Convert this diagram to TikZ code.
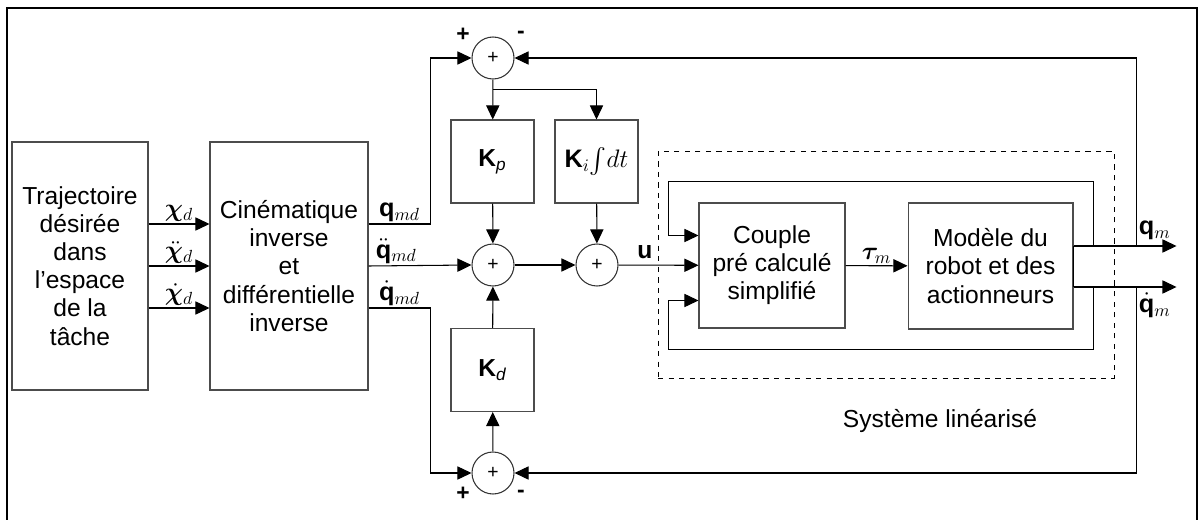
\documentclass[tikz,border=0pt]{standalone}
\usepackage{amsmath,bm}
\usepackage{fontspec}
\setmainfont{Liberation Sans}
\usepackage{tikz}
\usetikzlibrary{arrows.meta,positioning,calc}

\begin{document}
\begin{tikzpicture}[
  x=0.02cm, y=-0.02cm,
  >={Triangle[length=8pt,width=7.5pt]},
  every node/.style={font=\fontsize{14}{16}\selectfont},
  boxstep/.style={draw=black!70, line width=0.6pt, align=center, inner sep=0pt},
  gainbox/.style={boxstep, minimum width=1.66cm, minimum height=1.66cm},
  sumnode/.style={draw=black!80, circle, line width=0.6pt, minimum size=0.84cm, inner sep=0pt, font=\fontsize{11}{12}\selectfont},
  arr/.style={->, line width=0.6pt},
  wire/.style={line width=0.6pt},
  sig/.style={font=\Large, inner sep=1pt},
  sgn/.style={font=\bfseries\fontsize{13}{14}\selectfont}
]
\useasboundingbox (0,0) rectangle (1199,520);
\draw[line width=1.2pt] (7,520) -- (7,8) -- (1197,8) -- (1197,520);

\node[draw, dashed, line width=0.5pt, minimum width=9.12cm, minimum height=4.54cm] (lin) at (886,264.5) {};
\node (linlbl) at (940,421) {Système linéarisé};

\node[boxstep, minimum width=2.72cm, minimum height=4.96cm] (traj) at (80,266) {Trajectoire\\désirée\\dans\\l’espace\\de la\\tâche};
\node[boxstep, minimum width=3.16cm, minimum height=4.96cm] (cine) at (289,266) {Cinématique\\inverse\\et\\différentielle\\inverse};
\node[sumnode] (sumP) at (493,58) {+};
\node[gainbox] (kp) at (492.5,161.5) {$\textbf{K}_{\textit{p}}$};
\node[gainbox] (ki) at (596.5,161.5) {\Large$\mathbf{K}_i\!\int\! dt$};
\node[sumnode] (sumA) at (493,265) {+};
\node[sumnode] (sumI) at (597,265) {+};
\node[gainbox] (kd) at (492.5,370) {$\textbf{K}_{\textit{d}}$};
\node[sumnode] (sumD) at (493,473) {+};
\node[boxstep, minimum width=2.92cm, minimum height=2.5cm] (couple) at (772,265.5) {Couple\\pré calculé\\simplifié};
\node[boxstep, minimum width=3.3cm, minimum height=2.52cm] (modele) at (990.5,266) {Modèle du\\robot et des\\actionneurs};

\node[sgn] (pP) at (463,35) {+};
\node[sgn] (mP) at (521,35) {-};
\node[sgn] (pD) at (463,494) {+};
\node[sgn] (mD) at (521,494) {-};

\coordinate (oq) at ($(modele.east)+(0,-20)$);
\coordinate (oqd) at ($(modele.east)+(0,21)$);
\coordinate (qmout) at ($(oq)+(103,0)$);
\coordinate (qdmout) at ($(oqd)+(103,0)$);

\draw[arr] ($(traj.east)+(0,-42)$) -- node[above, sig] {$\bm{\chi}_d$} ($(cine.west)+(0,-42)$);
\draw[arr] (traj.east) -- node[above, sig] {$\ddot{\bm{\chi}}_d$} (cine.west);
\draw[arr] ($(traj.east)+(0,42)$) -- node[above, sig] {$\dot{\bm{\chi}}_d$} ($(cine.west)+(0,42)$);

\draw[arr] ($(cine.east)+(0,-42)$) -- node[above, sig] {$\mathbf{q}_{md}$} ++(62,0) |- (sumP.west);
\draw[arr] (cine.east) -- node[above, sig, pos=0.27] {$\ddot{\mathbf{q}}_{md}$} (sumA.west);
\draw[arr] ($(cine.east)+(0,42)$) -- node[above, sig] {$\dot{\mathbf{q}}_{md}$} ++(62,0) |- (sumD.west);

\draw[arr] (sumP) -- (kp);
\draw[arr] ($(sumP.south)+(0,10)$) -| (ki.north);
\draw[arr] (kp) -- (sumA);
\draw[arr] (ki) -- (sumI);
\draw[arr] (kd) -- (sumA);
\draw[arr] (sumD) -- (kd);
\draw[arr] (sumA) -- (sumI);
\draw[arr] (sumI) -- node[above, pos=0.33, font=\bfseries\fontsize{14}{16}\selectfont] {u} (couple);
\draw[arr] (couple) -- node[above, sig] {$\bm{\tau}_m$} (modele);

\draw[wire] (oq) -- (oqd);
\draw[arr] (oq) -- (qmout) node[above left, sig, inner sep=3pt] {$\mathbf{q}_m$};
\draw[arr] (oqd) -- (qdmout) node[below left, sig, inner sep=3pt] {$\dot{\mathbf{q}}_m$};
\draw[arr] ($(oq)+(20,0)$) |- ($(couple.north west)+(-30,-21)$) |- ($(couple.west)+(0,-30)$);
\draw[arr] ($(oqd)+(20,0)$) |- ($(couple.south west)+(-30,21)$) |- ($(couple.west)+(0,35)$);
\draw[arr] ($(oq)+(63,0)$) |- (sumP.east);
\draw[arr] ($(oqd)+(63,0)$) |- (sumD.east);
\end{tikzpicture}
\end{document}
